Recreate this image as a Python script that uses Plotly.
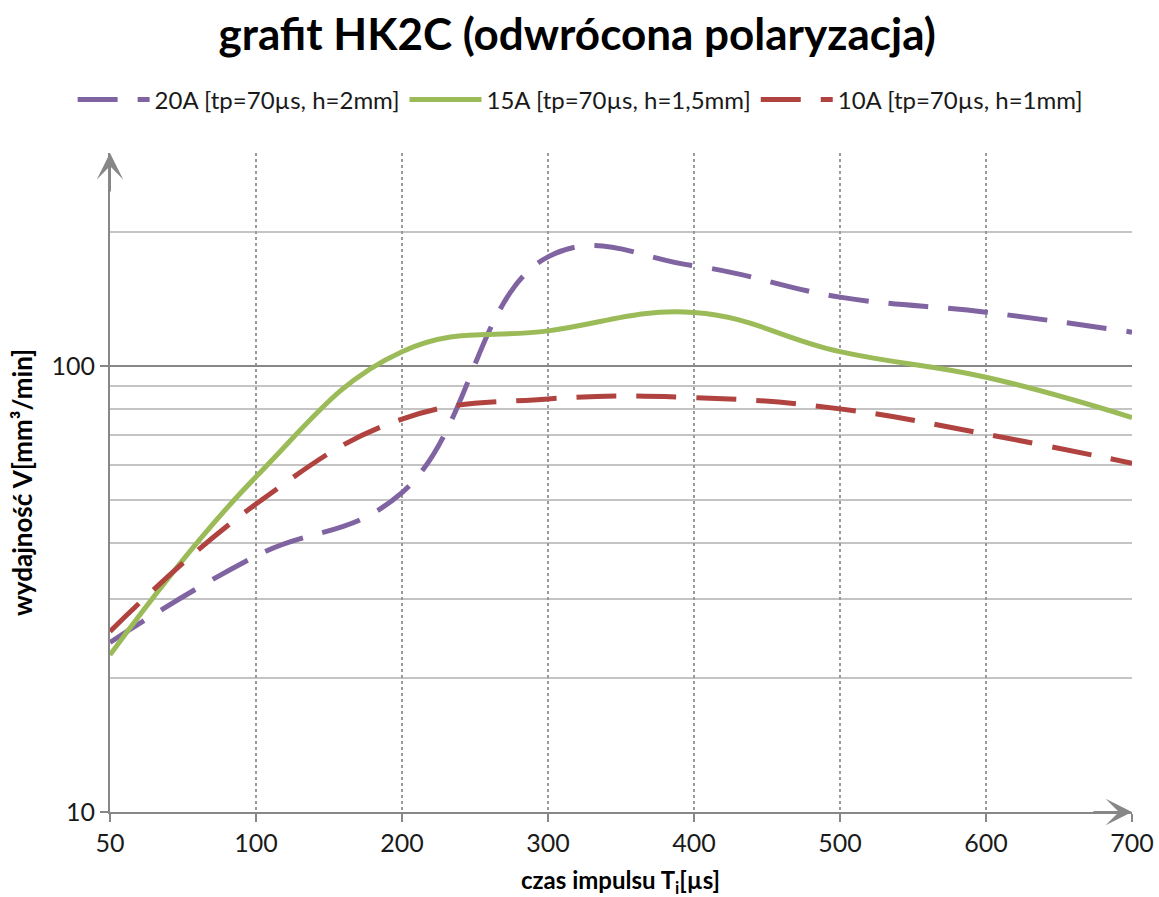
import plotly.graph_objects as go

# Data
categories = ["50", "100", "200", "300", "400", "500", "600", "700"]
series_20A = [24.0, 37.5, 52.0, 175.5, 167.6, 142.6, 131.9, 119.0]
series_15A = [22.5, 56.4, 107.6, 119.8, 131.7, 107.6, 94.3, 76.6]
series_10A = [25.4, 49.0, 76.0, 84.3, 84.9, 80.1, 70.3, 60.5]
names = ["20A [tp=70µs, h=2mm]", "15A [tp=70µs, h=1,5mm]", "10A [tp=70µs, h=1mm]"]
y_major = [10, 100]
y_minor = [20, 30, 40, 50, 60, 70, 80, 90, 200, 300]

FONT = "Lato, 'Open Sans', sans-serif"
AXIS_GRAY = "#878787"
SMOOTH = 1.2

fig = go.Figure()
fig.add_trace(go.Scatter(
    x=categories, y=series_20A, name=names[0], mode="lines",
    line=dict(color="#8064A2", width=5, dash="40px,20px", shape="spline", smoothing=SMOOTH)))
fig.add_trace(go.Scatter(
    x=categories, y=series_15A, name=names[1], mode="lines",
    line=dict(color="#9BBB59", width=5, shape="spline", smoothing=SMOOTH)))
fig.add_trace(go.Scatter(
    x=categories, y=series_10A, name=names[2], mode="lines",
    line=dict(color="#B0433F", width=5, dash="40px,20px", shape="spline", smoothing=SMOOTH)))

fig.update_layout(
    width=1159, height=897,
    margin=dict(l=110, r=27, t=153, b=85, autoexpand=False),
    paper_bgcolor="white", plot_bgcolor="white",
    font=dict(family=FONT, size=25, color="#1a1a1a"),
    title=dict(text="<b>grafit HK2C (odwrócona polaryzacja)</b>",
               x=0.498, xanchor="center", y=1 - 35 / 897, yanchor="middle",
               yref="container", font=dict(size=44, color="#000000", family=FONT)),
    legend=dict(orientation="h", x=0.46, xanchor="center", y=(812 - 100) / 659,
                yanchor="middle", font=dict(size=24, color="#1a1a1a"),
                itemwidth=72, tracegroupgap=0, bgcolor="rgba(0,0,0,0)"),
    showlegend=True,
)

fig.update_xaxes(
    type="category", range=[0, 7], automargin=False,
    showline=True, linecolor=AXIS_GRAY, linewidth=2,
    ticks="outside", ticklen=8, tickcolor=AXIS_GRAY, tickwidth=2,
    showgrid=True, gridcolor="#9a9a9a", griddash="dot", gridwidth=1.5,
    tickfont=dict(size=25), layer="below traces", zeroline=False,
)
fig.update_yaxes(
    type="log", range=[1, 2.4771212547], automargin=False,
    tickmode="array", tickvals=y_major, ticktext=[str(v) for v in y_major],
    showline=True, linecolor=AXIS_GRAY, linewidth=2,
    ticks="outside", ticklen=8, tickcolor=AXIS_GRAY, tickwidth=2,
    showgrid=True, gridcolor=AXIS_GRAY, gridwidth=1.5,
    minor=dict(tickmode="array", tickvals=y_minor, showgrid=True,
               gridcolor="#c4c4c4", gridwidth=1.5, ticks=""),
    tickfont=dict(size=25), layer="below traces", zeroline=False,
)

# axis arrows
fig.add_annotation(xref="paper", yref="paper", x=0, y=1, ax=0, ay=40,
                   showarrow=True, arrowhead=3, arrowsize=2.2, arrowwidth=2,
                   arrowcolor=AXIS_GRAY, text="")
fig.add_annotation(xref="paper", yref="paper", x=1, y=0, ax=-40, ay=0,
                   showarrow=True, arrowhead=3, arrowsize=2.2, arrowwidth=2,
                   arrowcolor=AXIS_GRAY, text="")

# axis titles
fig.add_annotation(xref="paper", yref="paper", x=(620 - 110) / 1022, y=(812 - 882) / 659,
                   xanchor="center", yanchor="middle", showarrow=False,
                   text="<b>czas impulsu T<sub>i</sub>[µs]</b>",
                   font=dict(size=24, color="#000000"))
fig.add_annotation(xref="paper", yref="paper", x=(22 - 110) / 1022, y=(812 - 483) / 659,
                   xanchor="center", yanchor="middle", showarrow=False, textangle=-90,
                   text="<b>wydajność V[mm³/min]</b>",
                   font=dict(size=26, color="#000000"))

fig.write_html("out.html")
